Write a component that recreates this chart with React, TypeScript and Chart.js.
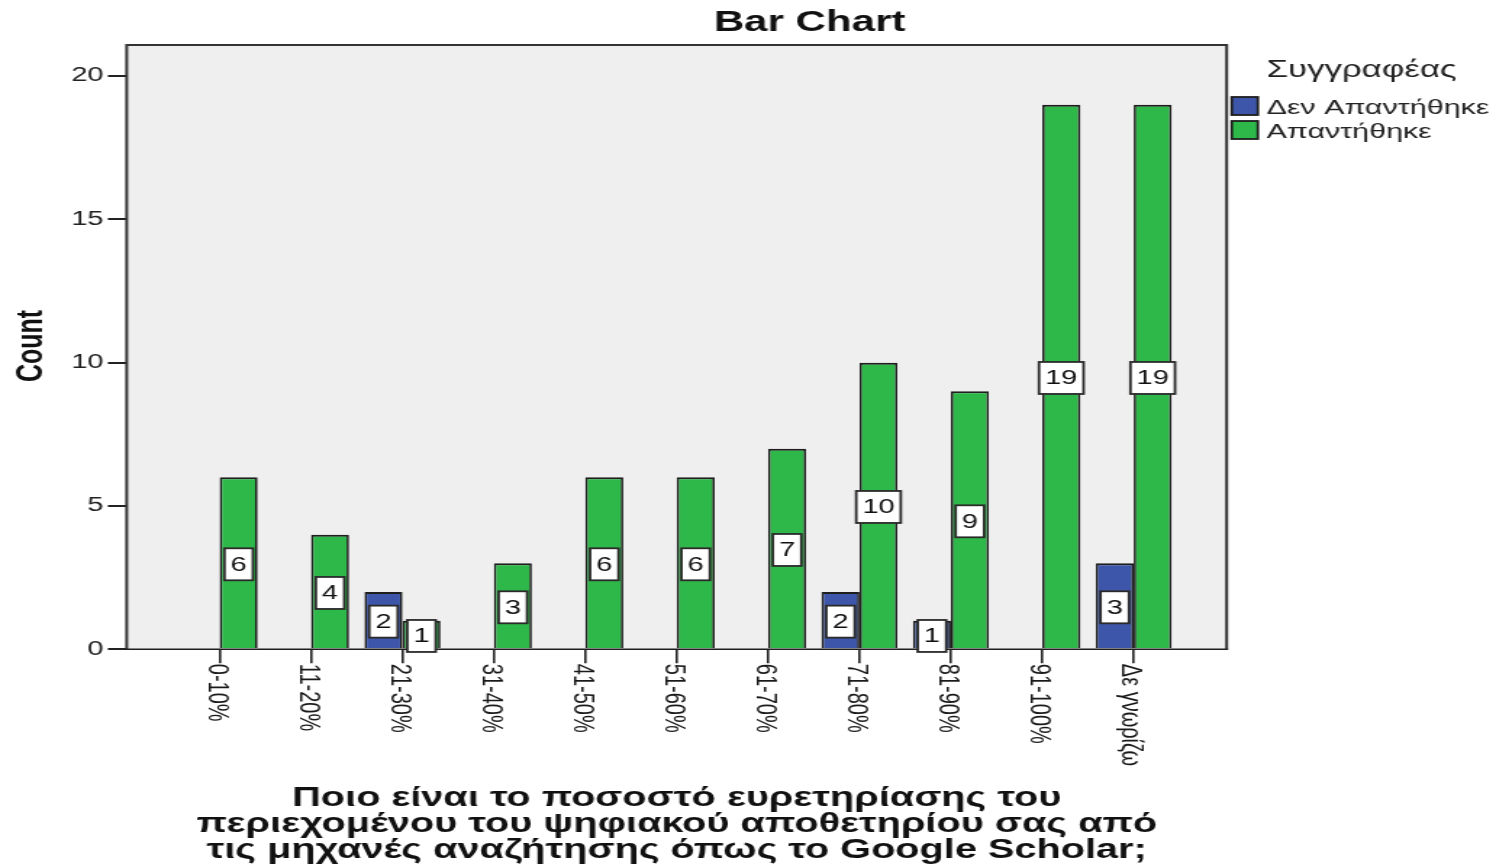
import React, { useEffect, useRef } from "react";
import { Chart, registerables } from "chart.js";

Chart.register(...registerables);

// ---- data ----
const CATEGORIES = [
  "0-10%",
  "11-20%",
  "21-30%",
  "31-40%",
  "41-50%",
  "51-60%",
  "61-70%",
  "71-80%",
  "81-90%",
  "91-100%",
  "Δε γνωρίζω",
];
const NOT_ANSWERED = [0, 0, 2, 0, 0, 0, 0, 2, 1, 0, 3];
const ANSWERED = [6, 4, 1, 3, 6, 6, 7, 10, 9, 19, 19];
const SERIES_NAMES = ["Δεν Απαντήθηκε", "Απαντήθηκε"];
const SERIES_VALUES = [NOT_ANSWERED, ANSWERED];
const SERIES_COLORS = ["#3d56a9", "#2fb84a"];
const Y_TICKS = [0, 5, 10, 15, 20];
const CHART_TITLE = "Bar Chart";
const Y_TITLE = "Count";
const LEGEND_TITLE = "Συγγραφέας";
const X_TITLE_LINES = [
  "Ποιο είναι το ποσοστό ευρετηρίασης του",
  "περιεχομένου του ψηφιακού αποθετηρίου σας από",
  "τις μηχανές αναζήτησης όπως το Google Scholar;",
];

// ---- layout ----
const W = 1032;
const H = 864;
const FONT = '"Liberation Sans", Arial, sans-serif';
const PLOT_LEFT = 87.4;
const PLOT_RIGHT = 846.2;
const PLOT_TOP = 45;
const PLOT_BOTTOM = 649.3;
const Y_MAX = 21.08;
const X_PAD = 1.017;

const spssPlugin = {
  id: "spssLook",
  beforeDraw(chart: any) {
    const { ctx, chartArea: a } = chart;
    ctx.save();
    ctx.fillStyle = "#ffffff";
    ctx.fillRect(0, 0, chart.width, chart.height);
    ctx.fillStyle = "#efefef";
    ctx.fillRect(a.left, a.top, a.right - a.left, a.bottom - a.top);
    ctx.restore();
  },
  afterDatasetsDraw(chart: any) {
    const { ctx, chartArea: a } = chart;
    ctx.save();
    // frame
    ctx.strokeStyle = "#333";
    ctx.lineWidth = 2;
    ctx.beginPath();
    ctx.moveTo(a.left, a.bottom);
    ctx.lineTo(a.left, a.top);
    ctx.lineTo(a.right, a.top);
    ctx.lineTo(a.right, a.bottom);
    ctx.stroke();
    ctx.lineWidth = 1.5;
    ctx.strokeStyle = "#1e1e1e";
    ctx.beginPath();
    ctx.moveTo(a.left - 1, a.bottom);
    ctx.lineTo(a.right + 1, a.bottom);
    ctx.stroke();

    // value labels
    ctx.font = `20px ${FONT}`;
    ctx.textAlign = "center";
    ctx.textBaseline = "middle";
    SERIES_VALUES.forEach((vals, di) => {
      const meta = chart.getDatasetMeta(di);
      meta.data.forEach((el: any, i: number) => {
        const v = vals[i];
        if (!v) return;
        const txt = String(v);
        const tw = ctx.measureText(txt).width;
        const bw = tw + 8.5;
        const bh = 32;
        const cx = el.x;
        const cy = (el.y + el.base) / 2 + 1.5;
        ctx.fillStyle = "#ffffff";
        ctx.fillRect(cx - bw / 2, cy - bh / 2, bw, bh);
        ctx.strokeStyle = "#2a2a2a";
        ctx.lineWidth = 1.8;
        ctx.strokeRect(cx - bw / 2, cy - bh / 2, bw, bh);
        ctx.fillStyle = "#111";
        ctx.fillText(txt, cx, cy + 1);
      });
    });
    ctx.restore();
  },
  afterDraw(chart: any) {
    const { ctx, chartArea: a, scales } = chart;
    ctx.save();
    ctx.fillStyle = "#111";

    // chart title
    ctx.font = `bold 29px ${FONT}`;
    ctx.textAlign = "center";
    ctx.textBaseline = "alphabetic";
    ctx.fillText(CHART_TITLE, 558.5, 30.5);

    // x tick labels, rotated clockwise
    ctx.font = `20px ${FONT}`;
    ctx.fillStyle = "#1a1a1a";
    CATEGORIES.forEach((lab, i) => {
      const x = scales.x.getPixelForValue(i) - 2.5;
      ctx.save();
      ctx.translate(x, a.bottom + 14.5);
      ctx.rotate(Math.PI / 2);
      ctx.textAlign = "left";
      ctx.textBaseline = "middle";
      ctx.fillText(lab, 0, 0);
      ctx.restore();
    });

    // y title
    ctx.save();
    ctx.fillStyle = "#111";
    ctx.font = `bold 25px ${FONT}`;
    ctx.translate(28.5, 346);
    ctx.rotate(-Math.PI / 2);
    ctx.textAlign = "center";
    ctx.textBaseline = "alphabetic";
    ctx.fillText(Y_TITLE, 0, 0);
    ctx.restore();

    // x title
    ctx.fillStyle = "#111";
    ctx.font = `bold 27.4px ${FONT}`;
    ctx.textAlign = "center";
    ctx.textBaseline = "alphabetic";
    const cx = (a.left + a.right) / 2;
    X_TITLE_LINES.forEach((line, i) => {
      ctx.fillText(line, cx, 806 + i * 26);
    });

    // legend
    const lx = a.right + 3.5;
    ctx.textAlign = "left";
    ctx.fillStyle = "#222";
    ctx.font = `24px ${FONT}`;
    ctx.fillText(LEGEND_TITLE, lx + 24, 77);
    ctx.font = `21px ${FONT}`;
    SERIES_NAMES.forEach((name, i) => {
      const by = 97 + i * 24;
      ctx.fillStyle = SERIES_COLORS[i];
      ctx.fillRect(lx, by, 18, 18);
      ctx.strokeStyle = "#1e1e1e";
      ctx.lineWidth = 1.8;
      ctx.strokeRect(lx, by, 18, 18);
      ctx.fillStyle = "#222";
      ctx.fillText(name, lx + 24, by + 16.5);
    });
    ctx.restore();
  },
};

export default function App() {
  const canvasRef = useRef<HTMLCanvasElement | null>(null);

  useEffect(() => {
    document.body.style.margin = "0";
    document.body.style.overflow = "hidden";
    const canvas = canvasRef.current;
    if (!canvas) return;
    Chart.defaults.font.family = FONT;

    const chart = new Chart(canvas, {
      type: "bar",
      data: {
        datasets: SERIES_NAMES.map((name, di) => ({
          label: name,
          data: SERIES_VALUES[di].map((v, i) => ({ x: i, y: v === 0 ? null : v })),
          backgroundColor: SERIES_COLORS[di],
          borderColor: "#1e1e1e",
          borderWidth: { top: 2, left: 1.7, right: 1.7, bottom: 0 },
          borderSkipped: false,
          categoryPercentage: 0.831,
          barPercentage: 1.0,
        })),
      },
      options: {
        responsive: false,
        animation: false,
        devicePixelRatio: 1,
        layout: {
          padding: { top: PLOT_TOP, right: W - PLOT_RIGHT, bottom: 0, left: 0 },
        },
        plugins: {
          legend: { display: false },
          title: { display: false },
          tooltip: { enabled: false },
        },
        scales: {
          x: {
            type: "linear",
            offset: false,
            min: -X_PAD,
            max: CATEGORIES.length - 1 + X_PAD,
            afterBuildTicks: (s: any) => {
              s.ticks = CATEGORIES.map((_, i) => ({ value: i }));
            },
            afterFit: (s: any) => {
              s.height = H - PLOT_BOTTOM;
            },
            ticks: { display: false },
            grid: {
              display: true,
              offset: false,
              drawOnChartArea: false,
              drawTicks: true,
              tickLength: 14,
              color: "#222",
              lineWidth: 1.6,
            },
            border: { display: false },
          },
          y: {
            type: "linear",
            min: 0,
            max: Y_MAX,
            afterBuildTicks: (s: any) => {
              s.ticks = Y_TICKS.map((v) => ({ value: v }));
            },
            afterFit: (s: any) => {
              s.width = PLOT_LEFT;
            },
            ticks: {
              font: { size: 20, family: FONT },
              color: "#222",
              padding: 3,
            },
            grid: {
              display: true,
              drawOnChartArea: false,
              drawTicks: true,
              tickLength: 13,
              color: "#222",
              lineWidth: 2,
            },
            border: { display: false },
          },
        },
      },
      plugins: [spssPlugin],
    } as any);

    return () => {
      chart.destroy();
    };
  }, []);

  return (
    <div style={{ position: "absolute", left: 0, top: 0, width: 1496, height: 864, overflow: "hidden", background: "#fff" }}>
      <canvas
        ref={canvasRef}
        width={W}
        height={H}
        style={{ width: "1496px", height: "864px", display: "block" }}
      />
    </div>
  );
}
